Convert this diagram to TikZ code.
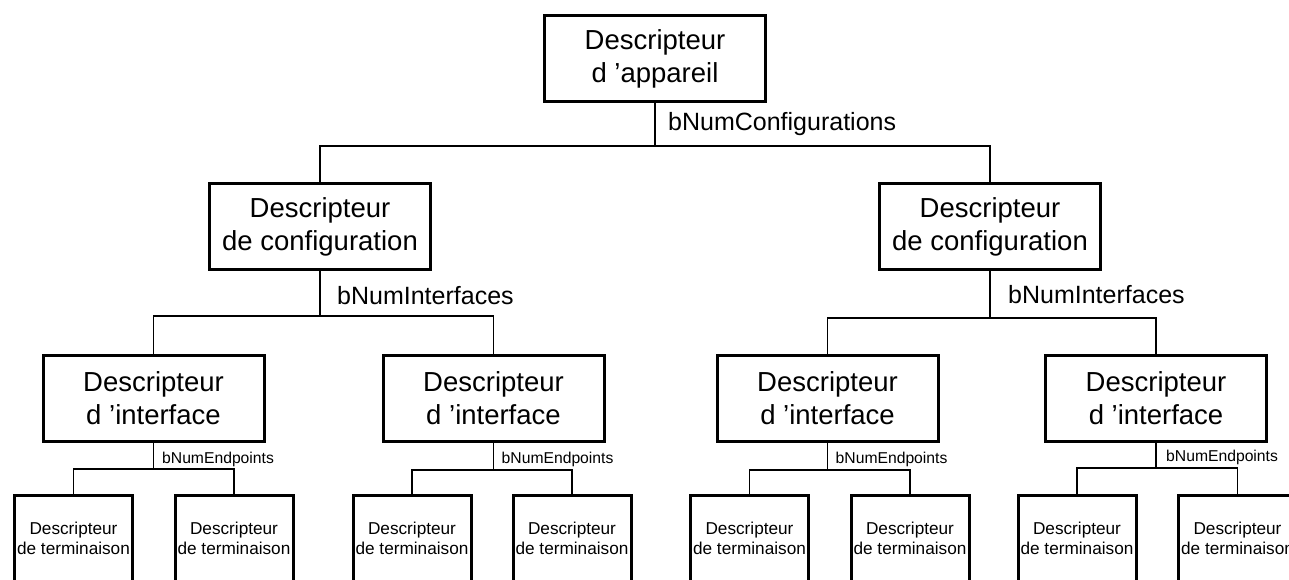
\documentclass[tikz,border=0pt]{standalone}
\usepackage{fontspec}
\setmainfont{Liberation Sans}
\usetikzlibrary{calc}

\tikzset{
  bigbox/.style={draw, line width=3pt, minimum width=221pt, minimum height=86pt,
    inner sep=0pt, align=center, font=\fontsize{27.5}{33}\selectfont},
  leafbox/.style={draw, line width=3pt, minimum width=118pt, minimum height=86pt,
    inner sep=0pt, align=center, font=\fontsize{17.2}{19.5}\selectfont},
  conn/.style={line width=1.3pt},
  biglabel/.style={inner sep=0pt, anchor=base west, font=\fontsize{25}{30}\selectfont},
  smalllabel/.style={inner sep=0pt, anchor=base west, font=\fontsize{15.7}{18}\selectfont},
}

\begin{document}
\begin{tikzpicture}[x=1pt, y=-1pt]
  \useasboundingbox (0,0) rectangle (1289,580);
  \fill[white] (0,0) rectangle (1289,580);
  \clip (0,0) rectangle (1289,580);

  % device level
  \node[bigbox] (dev) at (655,58.5) {Descripteur\\d ’appareil};

  % configuration level
  \node[bigbox] (cfgL) at (320,226.5) {Descripteur\\de configuration};
  \node[bigbox] (cfgR) at (990,226.5) {Descripteur\\de configuration};

  % interface level
  \node[bigbox] (ifL1) at (153.5,398.5) {Descripteur\\d ’interface};
  \node[bigbox] (ifL2) at (493.5,398.5) {Descripteur\\d ’interface};
  \node[bigbox] (ifR1) at (827.5,398.5) {Descripteur\\d ’interface};
  \node[bigbox] (ifR2) at (1156,398.5) {Descripteur\\d ’interface};

  % endpoint level
  \node[leafbox] (epL1a) at (73.5,538.5) {Descripteur\\de terminaison};
  \node[leafbox] (epL1b) at (234,538.5) {Descripteur\\de terminaison};
  \node[leafbox] (epL2a) at (412,538.5) {Descripteur\\de terminaison};
  \node[leafbox] (epL2b) at (572,538.5) {Descripteur\\de terminaison};
  \node[leafbox] (epR1a) at (749.5,538.5) {Descripteur\\de terminaison};
  \node[leafbox] (epR1b) at (910,538.5) {Descripteur\\de terminaison};
  \node[leafbox] (epR2a) at (1077,538.5) {Descripteur\\de terminaison};
  \node[leafbox] (epR2b) at (1237.5,538.5) {Descripteur\\de terminaison};

  % branching points
  \coordinate (jDev)  at (dev.south  |- 0,146);
  \coordinate (jCfgL) at (cfgL.south |- 0,316);
  \coordinate (jCfgR) at (cfgR.south |- 0,318);
  \coordinate (jIfL1) at (ifL1.south |- 0,469);
  \coordinate (jIfL2) at (ifL2.south |- 0,470);
  \coordinate (jIfR1) at (ifR1.south |- 0,470);
  \coordinate (jIfR2) at (ifR2.south |- 0,468);

  % connectors
  \draw[conn] (dev.south) -- (jDev);
  \draw[conn] (cfgL.north) |- (jDev) -| (cfgR.north);

  \draw[conn] (cfgL.south) -- (jCfgL);
  \draw[conn] (ifL1.north) |- (jCfgL) -| (ifL2.north);
  \draw[conn] (cfgR.south) -- (jCfgR);
  \draw[conn] (ifR1.north) |- (jCfgR) -| (ifR2.north);

  \draw[conn] (ifL1.south) -- (jIfL1);
  \draw[conn] (epL1a.north) |- (jIfL1) -| (epL1b.north);
  \draw[conn] (ifL2.south) -- (jIfL2);
  \draw[conn] (epL2a.north) |- (jIfL2) -| (epL2b.north);
  \draw[conn] (ifR1.south) -- (jIfR1);
  \draw[conn] (epR1a.north) |- (jIfR1) -| (epR1b.north);
  \draw[conn] (ifR2.south) -- (jIfR2);
  \draw[conn] (epR2a.north) |- (jIfR2) -| (epR2b.north);

  % field labels
  \node[biglabel] (lDev)  at ($(jDev)+(13,-15)$)  {bNumConfigurations};
  \node[biglabel] (lCfgL) at ($(jCfgL)+(17,-12)$) {bNumInterfaces};
  \node[biglabel] (lCfgR) at ($(jCfgR)+(18,-15)$) {bNumInterfaces};
  \node[smalllabel] (lIfL1) at ($(jIfL1)+(8.5,-6)$) {bNumEndpoints};
  \node[smalllabel] (lIfL2) at ($(jIfL2)+(8,-7)$)   {bNumEndpoints};
  \node[smalllabel] (lIfR1) at ($(jIfR1)+(8,-7)$)   {bNumEndpoints};
  \node[smalllabel] (lIfR2) at ($(jIfR2)+(10,-7)$)  {bNumEndpoints};
\end{tikzpicture}
\end{document}
